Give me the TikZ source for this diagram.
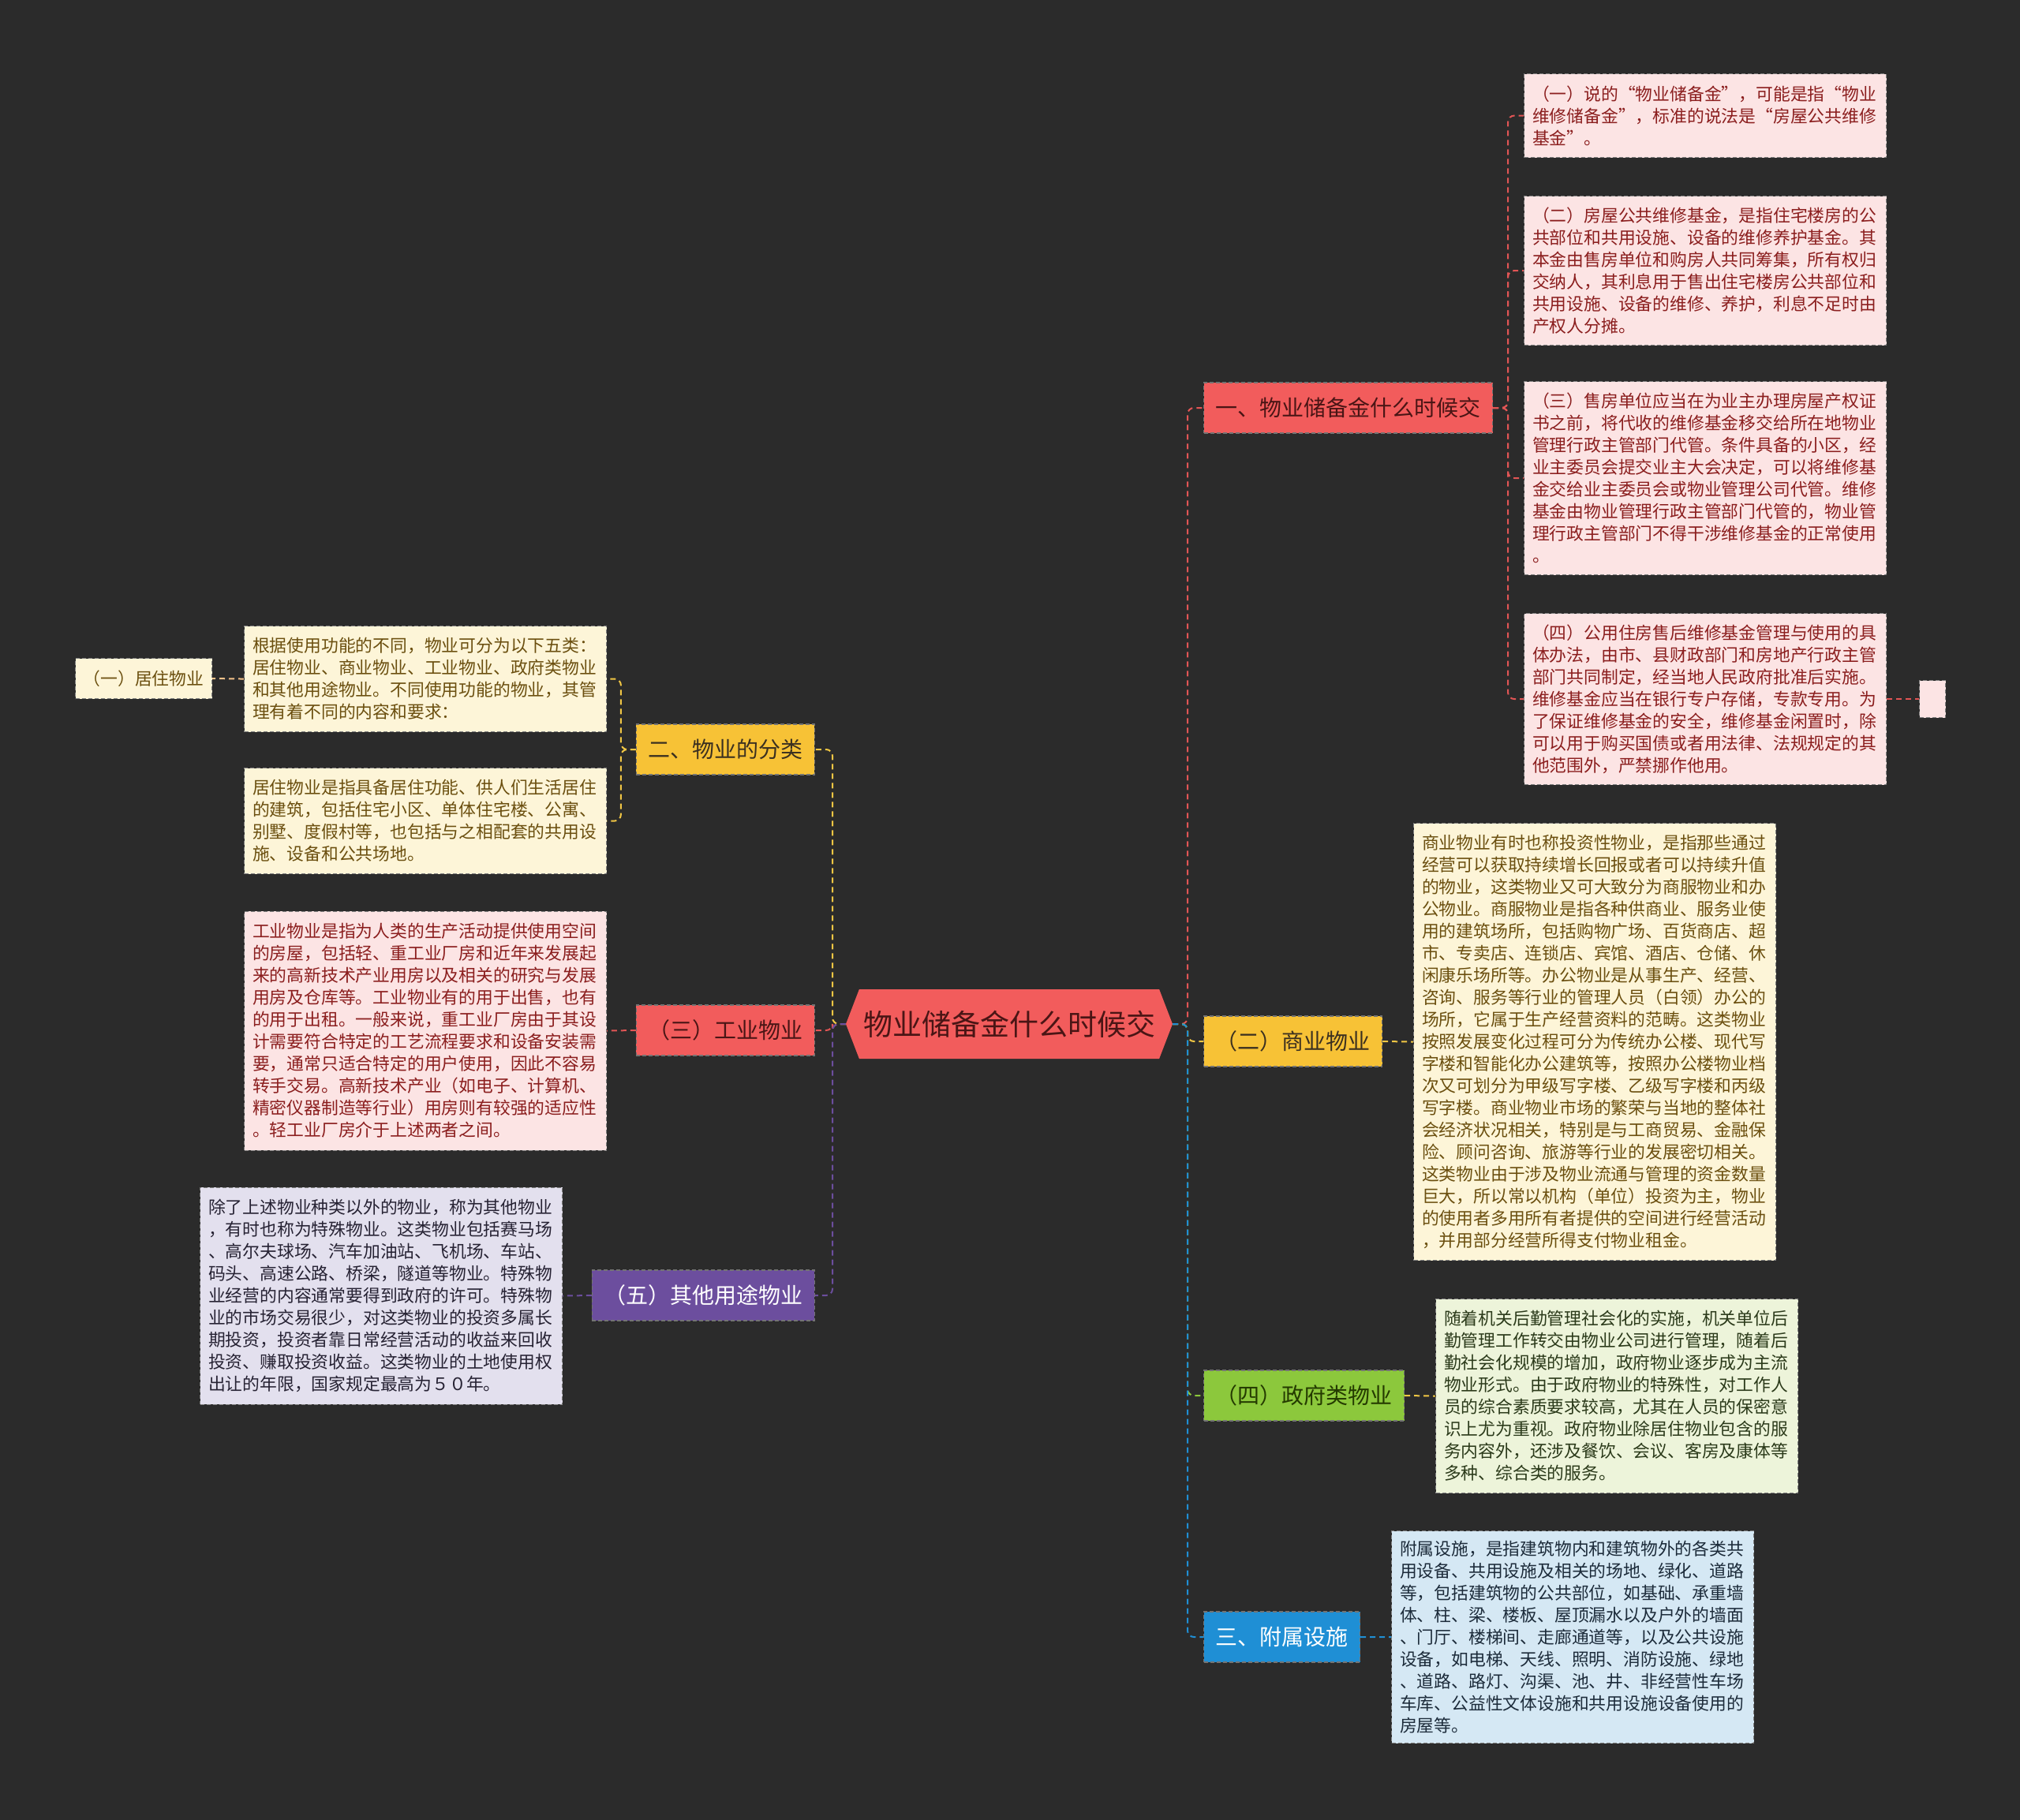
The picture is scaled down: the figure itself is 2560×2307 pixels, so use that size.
\documentclass[tikz,border=0pt]{standalone}
\usepackage{fontspec}
\setmainfont{Noto Sans CJK SC}
\usetikzlibrary{shapes.symbols}
\definecolor{bg}{HTML}{2B2B2B}
\definecolor{redF}{HTML}{F25C5C}
\definecolor{redT}{HTML}{4A1515}
\definecolor{redL}{HTML}{FCE4E4}
\definecolor{redLT}{HTML}{8B1E1E}
\definecolor{redC}{HTML}{E25555}
\definecolor{yelF}{HTML}{F7C236}
\definecolor{yelT}{HTML}{3B3020}
\definecolor{yelL}{HTML}{FDF5D8}
\definecolor{yelLT}{HTML}{6B4F0F}
\definecolor{yelC}{HTML}{F2C744}
\definecolor{peachC}{HTML}{F5C28A}
\definecolor{grnF}{HTML}{8CC83C}
\definecolor{grnT}{HTML}{243A00}
\definecolor{grnL}{HTML}{EDF4DA}
\definecolor{grnLT}{HTML}{2B3A1A}
\definecolor{bluF}{HTML}{1F8FD5}
\definecolor{bluL}{HTML}{D5E8F4}
\definecolor{bluLT}{HTML}{1C2B3A}
\definecolor{purF}{HTML}{6C4E9E}
\definecolor{purL}{HTML}{E3E0EE}
\definecolor{purLT}{HTML}{262233}
\begin{document}
\begin{tikzpicture}[x=1pt,y=-1pt,
  leaf/.style={draw=black!50, dash pattern=on 5pt off 3pt, line width=1.1pt,
    anchor=north west, text width=438pt, align=left, inner xsep=10.5pt, inner ysep=0pt,
    font=\fontsize{21.8}{28}\selectfont},
  br/.style={draw=black!55, dash pattern=on 5pt off 3pt, line width=1.1pt,
    minimum height=64pt, inner xsep=15pt, inner ysep=0pt, font=\fontsize{28}{32}\selectfont},
  con/.style={dash pattern=on 7pt off 5pt, line width=2pt, rounded corners=8pt}]
\fill[bg] (0,0) rectangle (2560,2307);
\useasboundingbox (0,0) rectangle (2560,2307);

% center
\node[signal, signal to=west and east, signal pointer angle=138, fill=redF, text=redT,
  minimum width=414pt, minimum height=88pt, inner xsep=2pt, inner ysep=0pt,
  font=\fontsize{37}{40}\selectfont] (c) at (1279,1298) {物业储备金什么时候交};
\coordinate (rt) at (1505,1298);
\coordinate (lt) at (1055,1298);

% right branches
\node[br, fill=redF, text=redT, anchor=west] (b1) at (1525,517) {一、物业储备金什么时候交};
\node[br, fill=yelF, text=yelT, anchor=west] (b4) at (1525,1320) {（二）商业物业};
\node[br, fill=grnF, text=grnT, anchor=west] (b6) at (1525,1769) {（四）政府类物业};
\node[br, fill=bluF, text=white, anchor=west] (b7) at (1525,2075) {三、附属设施};

% left branches
\node[br, fill=yelF, text=yelT, anchor=east] (b2) at (1033,950) {二、物业的分类};
\node[br, fill=redF, text=redT, anchor=east] (b3) at (1033,1306) {（三）工业物业};
\node[br, fill=purF, text=white, anchor=east] (b5) at (1033,1642) {（五）其他用途物业};

% leaves of 一
\node[leaf, fill=redL, text=redLT, minimum height=106pt] (a1) at (1931,93) {（一）说的“物业储备金”，可能是指“物业\\维修储备金”，标准的说法是“房屋公共维修\\基金”。};
\node[leaf, fill=redL, text=redLT, minimum height=189pt] (a2) at (1931,248) {（二）房屋公共维修基金，是指住宅楼房的公\\共部位和共用设施、设备的维修养护基金。其\\本金由售房单位和购房人共同筹集，所有权归\\交纳人，其利息用于售出住宅楼房公共部位和\\共用设施、设备的维修、养护，利息不足时由\\产权人分摊。};
\node[leaf, fill=redL, text=redLT, minimum height=245pt] (a3) at (1931,483) {（三）售房单位应当在为业主办理房屋产权证\\书之前，将代收的维修基金移交给所在地物业\\管理行政主管部门代管。条件具备的小区，经\\业主委员会提交业主大会决定，可以将维修基\\金交给业主委员会或物业管理公司代管。维修\\基金由物业管理行政主管部门代管的，物业管\\理行政主管部门不得干涉维修基金的正常使用\\。};
\node[leaf, fill=redL, text=redLT, minimum height=217pt] (a4) at (1931,777) {（四）公用住房售后维修基金管理与使用的具\\体办法，由市、县财政部门和房地产行政主管\\部门共同制定，经当地人民政府批准后实施。\\维修基金应当在银行专户存储，专款专用。为\\了保证维修基金的安全，维修基金闲置时，除\\可以用于购买国债或者用法律、法规规定的其\\他范围外，严禁挪作他用。};
\node[leaf, fill=redL, text width=, minimum width=33pt, minimum height=47pt, inner xsep=0pt] (a5) at (2432,862) {};

% right leaves
\node[leaf, fill=yelL, text=yelLT, minimum height=554pt] (com) at (1791,1043) {商业物业有时也称投资性物业，是指那些通过\\经营可以获取持续增长回报或者可以持续升值\\的物业，这类物业又可大致分为商服物业和办\\公物业。商服物业是指各种供商业、服务业使\\用的建筑场所，包括购物广场、百货商店、超\\市、专卖店、连锁店、宾馆、酒店、仓储、休\\闲康乐场所等。办公物业是从事生产、经营、\\咨询、服务等行业的管理人员（白领）办公的\\场所，它属于生产经营资料的范畴。这类物业\\按照发展变化过程可分为传统办公楼、现代写\\字楼和智能化办公建筑等，按照办公楼物业档\\次又可划分为甲级写字楼、乙级写字楼和丙级\\写字楼。商业物业市场的繁荣与当地的整体社\\会经济状况相关，特别是与工商贸易、金融保\\险、顾问咨询、旅游等行业的发展密切相关。\\这类物业由于涉及物业流通与管理的资金数量\\巨大，所以常以机构（单位）投资为主，物业\\的使用者多用所有者提供的空间进行经营活动\\，并用部分经营所得支付物业租金。};
\node[leaf, fill=grnL, text=grnLT, minimum height=246pt] (gov) at (1819,1646) {随着机关后勤管理社会化的实施，机关单位后\\勤管理工作转交由物业公司进行管理，随着后\\勤社会化规模的增加，政府物业逐步成为主流\\物业形式。由于政府物业的特殊性，对工作人\\员的综合素质要求较高，尤其在人员的保密意\\识上尤为重视。政府物业除居住物业包含的服\\务内容外，还涉及餐饮、会议、客房及康体等\\多种、综合类的服务。};
\node[leaf, fill=bluL, text=bluLT, minimum height=269pt] (fu) at (1763,1940) {附属设施，是指建筑物内和建筑物外的各类共\\用设备、共用设施及相关的场地、绿化、道路\\等，包括建筑物的公共部位，如基础、承重墙\\体、柱、梁、楼板、屋顶漏水以及户外的墙面\\、门厅、楼梯间、走廊通道等，以及公共设施\\设备，如电梯、天线、照明、消防设施、绿地\\、道路、路灯、沟渠、池、井、非经营性车场\\车库、公益性文体设施和共用设施设备使用的\\房屋等。};

% left leaves
\node[leaf, fill=yelL, text=yelLT, minimum height=134pt] (cl1) at (309,793) {根据使用功能的不同，物业可分为以下五类：\\居住物业、商业物业、工业物业、政府类物业\\和其他用途物业。不同使用功能的物业，其管\\理有着不同的内容和要求：};
\node[leaf, fill=yelL, text=yelLT, minimum height=134pt] (cl2) at (309,973) {居住物业是指具备居住功能、供人们生活居住\\的建筑，包括住宅小区、单体住宅楼、公寓、\\别墅、度假村等，也包括与之相配套的共用设\\施、设备和公共场地。};
\node[leaf, fill=yelL, text=yelLT, text width=, minimum width=173pt, minimum height=51pt, inner xsep=0pt, align=center] (jz) at (95,834) {（一）居住物业};
\node[leaf, fill=redL, text=redLT, minimum height=303pt] (ind) at (309,1154.5) {工业物业是指为人类的生产活动提供使用空间\\的房屋，包括轻、重工业厂房和近年来发展起\\来的高新技术产业用房以及相关的研究与发展\\用房及仓库等。工业物业有的用于出售，也有\\的用于出租。一般来说，重工业厂房由于其设\\计需要符合特定的工艺流程要求和设备安装需\\要，通常只适合特定的用户使用，因此不容易\\转手交易。高新技术产业（如电子、计算机、\\精密仪器制造等行业）用房则有较强的适应性\\。轻工业厂房介于上述两者之间。};
\node[leaf, fill=purL, text=purLT, minimum height=275pt] (oth) at (253,1504.5) {除了上述物业种类以外的物业，称为其他物业\\，有时也称为特殊物业。这类物业包括赛马场\\、高尔夫球场、汽车加油站、飞机场、车站、\\码头、高速公路、桥梁，隧道等物业。特殊物\\业经营的内容通常要得到政府的许可。特殊物\\业的市场交易很少，对这类物业的投资多属长\\期投资，投资者靠日常经营活动的收益来回收\\投资、赚取投资收益。这类物业的土地使用权\\出让的年限，国家规定最高为５０年。};

% connectors: center to branches
\draw[con, redC] (c.east) -- (rt) |- (b1.west);
\draw[con, yelC] (c.east) -- (rt) |- (b4.west);
\draw[con, grnF] (c.east) -- (rt) |- (b6.west);
\draw[con, bluF] (c.east) -- (rt) |- (b7.west);
\draw[con, redC] (c.west) -- (lt) |- (b3.east);
\draw[con, yelC] (c.west) -- (lt) |- (b2.east);
\draw[con, purF] (c.west) -- (lt) |- (b5.east);

% branch to leaves
\foreach \n in {a1,a2,a3,a4}{\draw[con, redC] (b1.east) -- ++(19,0) |- (\n.west);}
\draw[con, redC] (a4.east) -- (a5.west);
\draw[con, yelC] (b4.east) -- (com.west);
\draw[con, yelC] (b6.east) -- (gov.west);
\draw[con, bluF] (b7.east) -- (fu.west);
\draw[con, yelC] (b2.west) -- ++(-19,0) |- (cl1.east);
\draw[con, yelC] (b2.west) -- ++(-19,0) |- (cl2.east);
\draw[con, peachC] (cl1.west) -- (jz.east);
\draw[con, redC] (b3.west) -- (ind.east);
\draw[con, purF] (b5.west) -- (oth.east);
\end{tikzpicture}
\end{document}
